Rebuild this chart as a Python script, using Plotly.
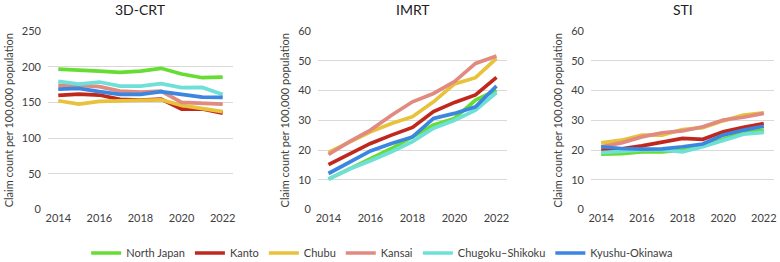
import plotly.graph_objects as go

years = [2014, 2015, 2016, 2017, 2018, 2019, 2020, 2021, 2022]
regions = ["North Japan", "Kanto", "Chubu", "Kansai", "Chugoku\u2013Shikoku", "Kyushu-Okinawa"]
colors = ["#66dd33", "#c0281e", "#e8c23a", "#e08a80", "#6ee0d8", "#3a86e0"]
panel_titles = ["3D-CRT", "IMRT", "STI"]
y_title = "Claim count per 100,000 population"

crt_north = [196.7, 195.8, 193.9, 192.0, 193.9, 197.7, 189.7, 184.6, 185.5]
crt_kanto = [159.8, 161.7, 160.3, 154.2, 153.3, 154.7, 140.7, 140.7, 135.0]
crt_chubu = [152.3, 147.7, 151.4, 151.9, 153.3, 153.7, 145.8, 141.6, 137.0]
crt_kansai = [173.8, 173.8, 172.0, 165.9, 164.5, 165.9, 150.0, 149.5, 147.7]
crt_chugoku = [179.4, 175.7, 178.5, 172.9, 172.9, 176.2, 170.6, 171.0, 161.2]
crt_kyushu = [168.7, 169.6, 165.0, 161.2, 161.2, 165.0, 161.2, 157.5, 157.0]

imrt_north = [10.2, 13.6, 16.9, 20.5, 24.4, 28.4, 30.6, 36.8, 40.1]
imrt_kanto = [15.1, 18.6, 22.2, 25.0, 27.6, 32.9, 36.0, 38.5, 44.4]
imrt_chubu = [19.2, 22.8, 26.1, 28.9, 31.2, 36.2, 42.2, 44.3, 50.8]
imrt_kansai = [18.5, 22.8, 26.7, 31.7, 36.2, 39.0, 43.0, 49.1, 51.6]
imrt_chugoku = [10.2, 13.6, 16.4, 19.4, 22.8, 27.3, 30.0, 33.4, 39.3]
imrt_kyushu = [12.1, 15.8, 19.7, 22.2, 24.4, 30.6, 32.3, 34.5, 41.5]

sti_north = [18.6, 18.8, 19.4, 19.4, 20.0, 21.3, 23.6, 25.8, 26.7]
sti_kanto = [20.0, 20.4, 21.4, 22.8, 23.9, 23.6, 26.1, 27.6, 28.9]
sti_chubu = [22.4, 23.3, 25.0, 25.0, 26.9, 27.5, 29.8, 31.7, 32.5]
sti_kansai = [21.1, 22.4, 24.4, 25.8, 26.4, 27.8, 30.1, 31.0, 32.3]
sti_chugoku = [19.1, 19.7, 20.0, 20.0, 19.4, 21.1, 23.3, 25.3, 25.9]
sti_kyushu = [21.1, 20.5, 20.3, 20.4, 21.1, 22.0, 25.0, 26.7, 28.0]

panels = [
    [crt_north, crt_kanto, crt_chubu, crt_kansai, crt_chugoku, crt_kyushu],
    [imrt_north, imrt_kanto, imrt_chubu, imrt_kansai, imrt_chugoku, imrt_kyushu],
    [sti_north, sti_kanto, sti_chubu, sti_kansai, sti_chugoku, sti_kyushu],
]
y_ranges = [[0, 250], [0, 60], [0, 60]]
y_dticks = [50, 10, 10]
tick_years = [2014, 2016, 2018, 2020, 2022]

W, H = 780, 262
x_domains = [[48 / W, 233 / W], [318 / W, 507 / W], [591 / W, 774 / W]]
y_domain = [1 - 209.5 / H, 1 - 31 / H]

FONT = "Lato, 'Open Sans', sans-serif"
fig = go.Figure()

for p, series in enumerate(panels):
    xa = "x" if p == 0 else f"x{p + 1}"
    ya = "y" if p == 0 else f"y{p + 1}"
    for i, vals in enumerate(series):
        fig.add_trace(go.Scatter(
            x=years, y=vals, mode="lines", name=regions[i],
            line=dict(color=colors[i], width=3.7),
            xaxis=xa, yaxis=ya, showlegend=(p == 0),
            legendrank=i,
        ))

layout = dict(
    width=W, height=H,
    margin=dict(l=0, r=0, t=0, b=0, autoexpand=False),
    paper_bgcolor="white", plot_bgcolor="white",
    font=dict(family=FONT, size=11, color="#404040"),
    legend=dict(orientation="h", x=0.49, xanchor="center", y=1 - 253 / H, yanchor="middle",
                font=dict(size=11, color="#404040"), traceorder="normal"),
    showlegend=True,
    annotations=[],
)

for p in range(3):
    key = "" if p == 0 else str(p + 1)
    layout[f"xaxis{key}"] = dict(
        domain=x_domains[p], range=[2013.5, 2022.5], tickmode="array", tickvals=tick_years,
        ticktext=[str(t) for t in tick_years], showgrid=False, zeroline=False, showline=False,
        ticks="", tickfont=dict(size=11, color="#404040"), anchor="y" + key, fixedrange=True,
        automargin=False,
    )
    layout[f"yaxis{key}"] = dict(
        domain=y_domain, range=y_ranges[p], dtick=y_dticks[p], showgrid=True, gridcolor="#d9d9d9",
        gridwidth=1, zeroline=False, showline=False, ticks="", ticklabelstandoff=6,
        tickfont=dict(size=11, color="#404040"), anchor="x" + key, automargin=False,
        title=dict(text=y_title, font=dict(size=11, color="#404040"), standoff=6),
    )
    layout["annotations"].append(dict(
        text=panel_titles[p], x=sum(x_domains[p]) / 2, y=1 - 10 / H, xref="paper", yref="paper",
        showarrow=False, font=dict(size=14, color="#202020", family=FONT, weight="normal"),
        xanchor="center", yanchor="middle",
    ))

fig.update_layout(**layout)
fig.write_html("out.html", config={"displayModeBar": False},
               post_script="document.body.style.margin='0';document.body.style.overflow='hidden';")
